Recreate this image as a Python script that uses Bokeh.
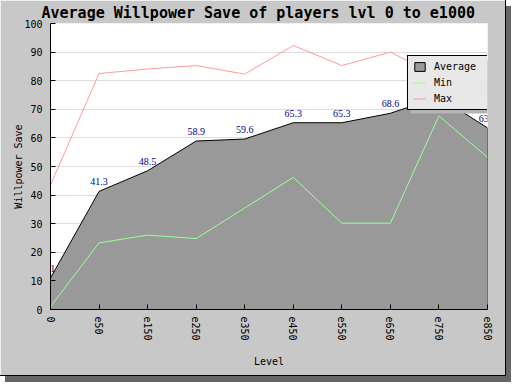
from bokeh.plotting import figure
from bokeh.models import (ColumnDataSource, FixedTicker, LabelSet, Legend, LegendItem,
                          BoxAnnotation, Range1d)
from bokeh.embed import file_html
from bokeh.resources import INLINE

# ---- data ----
levels = ["0", "e50", "e150", "e250", "e350", "e450", "e550", "e650", "e750", "e850"]
average = [11, 41.3, 48.5, 58.9, 59.6, 65.3, 65.3, 68.6, 74.3, 63.5]
minimum = [1, 23.3, 26.0, 24.8, 35.5, 46.2, 30.2, 30.2, 67.7, 53.2]
maximum = [43.5, 82.5, 84.1, 85.3, 82.3, 92.3, 85.3, 90.0, 81.4, 76.0]
y_ticks = list(range(0, 101, 10))
title_text = "Average Willpower Save of players lvl 0 to e1000"

idx = list(range(len(levels)))
labels = [f"{v:g}" for v in average]

MONO = "DejaVu Sans Mono"

p = figure(width=506, height=376, output_backend="svg", toolbar_location=None,
           x_range=Range1d(idx[0], idx[-1]), y_range=Range1d(0, 100),
           min_border_left=50, min_border_right=19, min_border_top=23, min_border_bottom=67)

p.styles = {"border-right": "1px solid black", "border-bottom": "1px solid black",
            "box-shadow": "5px 6px 0px #666666"}
p.background_fill_color = "white"
p.border_fill_color = "#c8c8c8"
p.outline_line_color = None

p.title.text = title_text
p.title.align = "left"
p.title.offset = -9
p.title.standoff = 3
p.title.text_font = MONO
p.title.text_font_style = "bold"
p.title.text_font_size = "15px"
p.title.text_color = "black"

# area for average (closed polygon down to zero)
area_x = idx + [idx[-1], idx[0]]
area_y = average + [0, 0]
r_avg = p.patch(area_x, area_y, fill_color="#999999", line_color="black", line_width=1)

src = ColumnDataSource(dict(x=idx, avg=average, mn=minimum, mx=maximum, lab=labels))
r_min = p.line("x", "mn", source=src, line_color="#99ff99", line_width=1)
r_max = p.line("x", "mx", source=src, line_color="#ff9999", line_width=1)

p.add_layout(LabelSet(x="x", y="avg", text="lab", source=src, y_offset=6,
                      text_align="center", text_baseline="alphabetic",
                      text_font=MONO, text_font_size="10px", text_color="#000088"))

# axes
for ax in (p.xaxis[0], p.yaxis[0]):
    ax.axis_line_color = "black"
    ax.major_tick_line_color = "black"
    ax.major_tick_in = 5
    ax.major_tick_out = 0
    ax.minor_tick_line_color = None
    ax.major_label_text_font = MONO
    ax.major_label_text_font_size = "10px"
    ax.major_label_text_color = "black"
    ax.axis_label_text_font = MONO
    ax.axis_label_text_font_size = "10px"
    ax.axis_label_text_font_style = "normal"
    ax.axis_label_text_color = "black"

p.xaxis.ticker = FixedTicker(ticks=idx)
p.xaxis.major_label_overrides = {i: s for i, s in zip(idx, levels)}
p.xaxis.major_label_orientation = "vertical"
p.xaxis.major_label_standoff = 7
p.xaxis.axis_label = "Level"
p.xaxis.axis_label_standoff = 12

p.yaxis.ticker = FixedTicker(ticks=y_ticks)
p.yaxis.major_label_standoff = 8
p.yaxis.axis_label = "Willpower Save"
p.yaxis.axis_label_standoff = -3

p.xgrid.visible = False
p.ygrid.grid_line_color = "#dddddd"

# legend shadow + legend
p.add_layout(BoxAnnotation(left=360, right=439, bottom=196, top=249,
                           left_units="screen", right_units="screen",
                           bottom_units="screen", top_units="screen",
                           fill_color="#b4b4b4", fill_alpha=1.0, line_color=None))

legend = Legend(items=[LegendItem(label="Average", renderers=[r_avg]),
                       LegendItem(label="Min", renderers=[r_min]),
                       LegendItem(label="Max", renderers=[r_max])],
                location=(357, 199), orientation="vertical",
                background_fill_color="#e8e8e8", background_fill_alpha=1.0,
                border_line_color="black", border_line_width=1, border_line_alpha=1.0,
                label_text_font=MONO, label_text_font_size="10px",
                label_text_color="black",
                padding=5, spacing=5, margin=0,
                glyph_width=13, glyph_height=11, label_height=11,
                label_width=48, label_standoff=8)
p.add_layout(legend)

open("out.html", "w").write(file_html(p, INLINE))
